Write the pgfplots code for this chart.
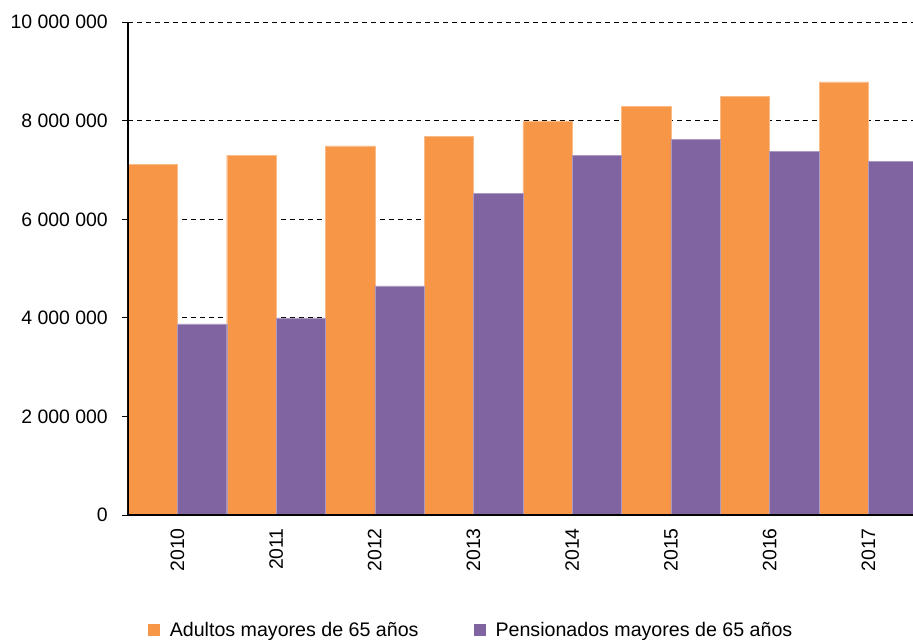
\documentclass[border=0pt]{standalone}
\usepackage{fontspec}
\setmainfont{Liberation Sans}
\usepackage{pgfplots}
\pgfplotsset{compat=1.18}
\definecolor{adultos}{HTML}{F79646}
\definecolor{pension}{HTML}{8064A2}

\begin{document}
\begin{tikzpicture}
\path[use as bounding box] (-128bp,-128bp) rectangle (785bp,515bp);
\begin{axis}[
  at={(0,0)}, anchor=south west,
  scale only axis, width=785bp, height=492.7bp,
  xmin=-0.5, xmax=7.452, ymin=0, ymax=10000000,
  axis x line*=bottom, axis y line*=left,
  axis line style={black, line width=1.1bp, -},
  ytick={0,2000000,4000000,6000000,8000000,10000000},
  scaled y ticks=false,
  yticklabels={0,2 000 000,4 000 000,6 000 000,8 000 000,10 000 000},
  xtick={0,1,2,3,4,5,6,7},
  xticklabels={2010,2011,2012,2013,2014,2015,2016,2017},
  xtick style={draw=none},
  ytick style={black, line width=1bp},
  tick align=outside, major tick length=6bp,
  ymajorgrids,
  major grid style={black, line width=0.9bp, dash pattern=on 5bp off 4bp},
  ticklabel style={font=\fontsize{19.5}{23}\selectfont},
  yticklabel style={inner sep=0pt, xshift=-14bp},
  xticklabel style={rotate=90, anchor=east, inner sep=0pt, xshift=-7bp},
  legend style={at={(0.437,-0.233)}, anchor=center, draw=none, fill=none,
    legend columns=2, font=\fontsize{19.7}{23}\selectfont,
    /tikz/every odd column/.append style={column sep=8bp},
    /tikz/every even column/.append style={column sep=53bp}},
  every axis plot post/.append style={
    legend image code/.code={\fill[##1,draw=none] (0bp,-6bp) rectangle (12bp,6bp);}},
]
% Adultos mayores de 65 años
\addplot[ybar, bar width=0.5, bar shift=-0.25, fill=adultos,
  draw=adultos!65!white, line width=0.4bp]
  coordinates {(0,7110000) (1,7300000) (2,7490000) (3,7690000)
               (4,8000000) (5,8300000) (6,8500000) (7,8790000)};
\addlegendentry{Adultos mayores de 65 años}
% Pensionados mayores de 65 años
\addplot[ybar, bar width=0.5, bar shift=0.25, fill=pension,
  draw=pension!65!white, line width=0.4bp]
  coordinates {(0,3880000) (1,4000000) (2,4650000) (3,6530000)
               (4,7300000) (5,7630000) (6,7380000) (7,7180000)};
\addlegendentry{Pensionados mayores de 65 años}
% axis lines redrawn above the bars
\draw[black, line width=1.1bp] (rel axis cs:0,1) -- (rel axis cs:0,0) -- (rel axis cs:1,0);
\end{axis}
\end{tikzpicture}
\end{document}
